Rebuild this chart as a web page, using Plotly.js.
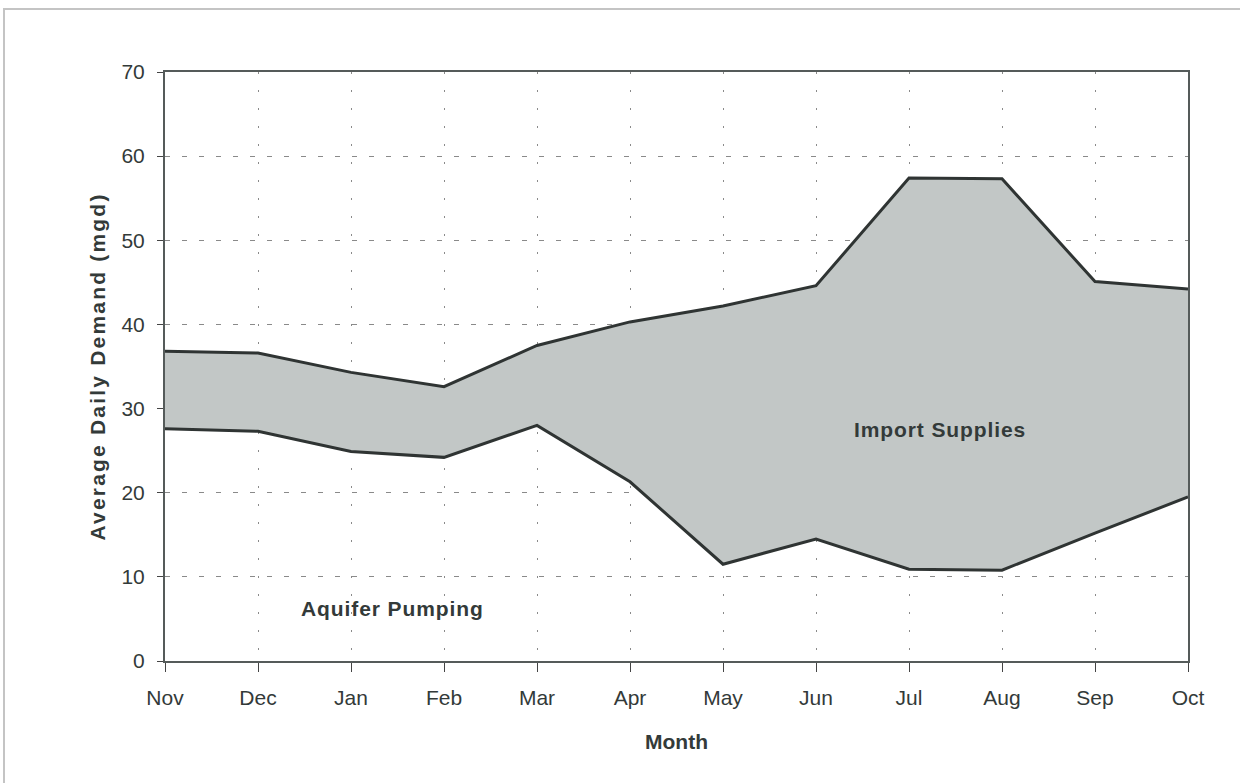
<!DOCTYPE html>
<html>
<head>
<meta charset="utf-8">
<script src="https://cdn.plot.ly/plotly-3.0.1.min.js"></script>
<style>
html,body{margin:0;padding:0;background:#fff;}
#frame{position:absolute;left:3px;top:8px;width:1250px;height:790px;border:2px solid #c4c4c4;box-sizing:border-box;}
#chart{position:absolute;left:0;top:0;width:1240px;height:783px;}
.g-ytitle text{letter-spacing:2.2px;}
.annotation-text{letter-spacing:0.9px;}
</style>
</head>
<body>
<div id="frame"></div>
<div id="chart"></div>
<script>
const months = ["Nov","Dec","Jan","Feb","Mar","Apr","May","Jun","Jul","Aug","Sep","Oct"];
const aquiferPumping = [27.6, 27.3, 24.9, 24.2, 28.0, 21.3, 11.5, 14.5, 10.9, 10.8, 15.2, 19.5];
const totalDemand = [36.8, 36.6, 34.3, 32.6, 37.5, 40.3, 42.2, 44.6, 57.4, 57.3, 45.1, 44.2];
const yTicks = [0, 10, 20, 30, 40, 50, 60, 70];

const font = "Liberation Sans, Arial, sans-serif";
const ink = "#333a39";

const traces = [
  {
    x: months, y: aquiferPumping, type: "scatter", mode: "lines",
    line: {color: "#2f3433", width: 3}, name: "Aquifer Pumping"
  },
  {
    x: months, y: totalDemand, type: "scatter", mode: "lines",
    fill: "tonexty", fillcolor: "#c2c7c6",
    line: {color: "#2f3433", width: 3}, name: "Import Supplies"
  }
];

const layout = {
  width: 1240, height: 783,
  margin: {l: 165, r: 52, t: 72, b: 122},
  paper_bgcolor: "rgba(0,0,0,0)",
  plot_bgcolor: "#ffffff",
  showlegend: false,
  font: {family: font, size: 21, color: ink},
  xaxis: {
    type: "category",
    range: [0, 11],
    tickvals: months,
    ticktext: months,
    showgrid: true, gridcolor: "#8a8a8a", griddash: "2px,16px", gridwidth: 1,
    showline: true, linecolor: "#555b5a", linewidth: 2, mirror: true,
    ticks: "outside", ticklen: 9, tickcolor: "#444", tickwidth: 1,
    ticklabelstandoff: 8,
    tickfont: {family: font, size: 21, color: ink},
    title: {text: "<b>Month</b>", font: {family: font, size: 21, color: ink}, standoff: 26},
    zeroline: false, fixedrange: true
  },
  yaxis: {
    range: [0, 70],
    tickvals: yTicks,
    showgrid: true, gridcolor: "#8a8a8a", griddash: "5px,12px", gridwidth: 1,
    showline: true, linecolor: "#555b5a", linewidth: 2, mirror: true,
    ticks: "outside", ticklen: 6, tickcolor: "#444", tickwidth: 1,
    ticklabelstandoff: 8,
    tickfont: {family: font, size: 21, color: ink},
    title: {text: "<b>Average Daily Demand (mgd)</b>", font: {family: font, size: 21, color: ink}, standoff: 10},
    zeroline: false, fixedrange: true
  },
  annotations: [
    {x: 8.33, y: 27.5, xref: "x", yref: "y", text: "<b>Import Supplies</b>", showarrow: false,
     font: {family: font, size: 21, color: ink}},
    {x: 2.45, y: 6.2, xref: "x", yref: "y", text: "<b>Aquifer Pumping</b>", showarrow: false,
     font: {family: font, size: 21, color: ink}}
  ]
};

Plotly.newPlot("chart", traces, layout, {displayModeBar: false, staticPlot: true});
</script>
</body>
</html>
